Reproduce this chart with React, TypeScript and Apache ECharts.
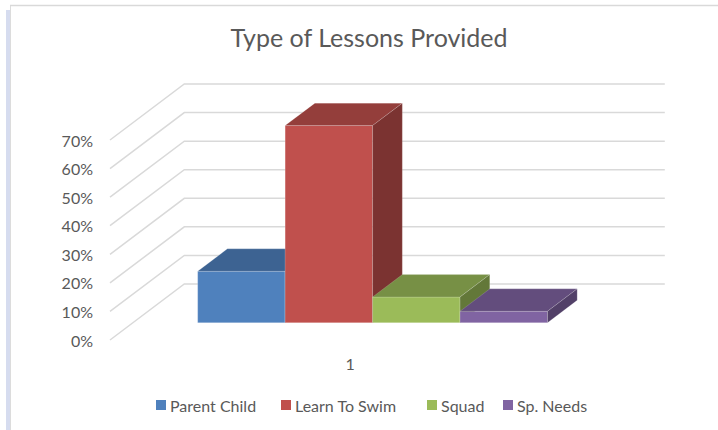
import React, { useEffect, useRef } from 'react';
import * as echarts from 'echarts';

// ---- data ----
const categories = ['1'];
const seriesNames = ['Parent Child', 'Learn To Swim', 'Squad', 'Sp. Needs'];
const seriesValues = [18, 69, 9, 4];
const yTicks = [0, 10, 20, 30, 40, 50, 60, 70];
const frontColors = ['#4f81bd', '#c0504d', '#9bbb59', '#8064a2'];
const legendLefts = [156, 281, 427, 503];

// ---- style / geometry constants ----
const DEPTH_X = 74.3;
const DEPTH_Y = -56;
const BAR_FRONT = 0.309;
const BAR_BACK = 0.709;
const GAP = 0.1347;
const BAR_W = 0.182;
const FONT = 'Lato, "Open Sans", sans-serif';
const TEXT = '#595959';

function shade(hex: string, f: number): string {
  const n = parseInt(hex.slice(1), 16);
  const r = Math.round(((n >> 16) & 255) * f);
  const g = Math.round(((n >> 8) & 255) * f);
  const b = Math.round((n & 255) * f);
  return `rgb(${r},${g},${b})`;
}

export default function App() {
  const ref = useRef<HTMLDivElement>(null);
  useEffect(() => {
    if (!ref.current) return;
    const chart = echarts.init(ref.current, null, { renderer: 'svg' });

    const gridSeries: any = {
      type: 'custom',
      name: '__grid',
      silent: true,
      clip: false,
      z: 1,
      data: yTicks.map((v) => [0, v]),
      renderItem: (params: any, api: any) => {
        const y = api.coord([0, api.value(1)])[1];
        const cs = params.coordSys;
        return {
          type: 'polyline',
          shape: {
            points: [
              [cs.x, y],
              [cs.x + DEPTH_X, y + DEPTH_Y],
              [cs.x + cs.width + DEPTH_X, y + DEPTH_Y],
            ],
          },
          style: { stroke: '#d9d9d9', lineWidth: 1.5, fill: null },
        };
      },
    };

    const barSeries = seriesNames.map((name, i) => ({
      type: 'custom',
      name,
      clip: false,
      z: 2 + i,
      itemStyle: { color: frontColors[i] },
      data: [[0, seriesValues[i]]],
      renderItem: (params: any, api: any) => {
        const cat = api.value(0);
        const v = api.value(1);
        const base = api.coord([cat, 0]);
        const top = api.coord([cat, v]);
        const band = api.size([1, 0])[0];
        const x0 = base[0] - band / 2 + band * (GAP + i * BAR_W);
        const x1 = x0 + band * BAR_W;
        const fdx = DEPTH_X * BAR_FRONT;
        const fdy = DEPTH_Y * BAR_FRONT;
        const bdx = DEPTH_X * BAR_BACK;
        const bdy = DEPTH_Y * BAR_BACK;
        const yb = base[1];
        const yt = top[1];
        const c = frontColors[i];
        const edge = 'rgba(255,255,255,0.25)';
        return {
          type: 'group',
          children: [
            {
              type: 'polygon',
              shape: {
                points: [
                  [x0 + fdx, yb + fdy],
                  [x1 + fdx, yb + fdy],
                  [x1 + fdx, yt + fdy],
                  [x0 + fdx, yt + fdy],
                ],
              },
              style: { fill: c, stroke: edge, lineWidth: 0.8 },
            },
            {
              type: 'polygon',
              shape: {
                points: [
                  [x0 + fdx, yt + fdy],
                  [x1 + fdx, yt + fdy],
                  [x1 + bdx, yt + bdy],
                  [x0 + bdx, yt + bdy],
                ],
              },
              style: { fill: shade(c, 0.77), stroke: edge, lineWidth: 0.6 },
            },
            {
              type: 'polygon',
              shape: {
                points: [
                  [x1 + fdx, yb + fdy],
                  [x1 + bdx, yb + bdy],
                  [x1 + bdx, yt + bdy],
                  [x1 + fdx, yt + fdy],
                ],
              },
              style: { fill: shade(c, 0.64), stroke: edge, lineWidth: 0.6 },
            },
          ],
        };
      },
    }));

    const option: any = {
      animation: false,
      backgroundColor: '#ffffff',
      title: {
        text: 'Type of Lessons Provided',
        left: 369,
        top: 24,
        padding: 0,
        textAlign: 'center',
        textStyle: { fontFamily: FONT, fontSize: 25, fontWeight: 'normal', color: TEXT },
      },
      legend: seriesNames.map((name, i) => ({
        data: [name],
        left: legendLefts[i],
        top: 397,
        padding: 0,
        icon: 'rect',
        itemWidth: 10,
        itemHeight: 10,
        selectedMode: false,
        textStyle: { fontFamily: FONT, fontSize: 16, color: TEXT, padding: [0, 0, 0, -1] },
      })),
      grid: { left: 110, right: 127.5, top: 140, bottom: 90, containLabel: false },
      xAxis: {
        type: 'category',
        data: categories,
        axisLine: { show: false },
        axisTick: { show: false },
        splitLine: { show: false },
        axisLabel: { margin: 15, fontFamily: FONT, fontSize: 16, color: TEXT },
      },
      yAxis: {
        type: 'value',
        min: 0,
        max: 70,
        interval: 10,
        axisLine: { show: false },
        axisTick: { show: false },
        splitLine: { show: false },
        axisLabel: {
          margin: 17,
          formatter: '{value}%',
          fontFamily: FONT,
          fontSize: 16,
          color: TEXT,
        },
      },
      graphic: [
        { type: 'rect', shape: { x: 6, y: 10, width: 4, height: 420 }, style: { fill: '#d6dcef' }, silent: true },
        { type: 'line', shape: { x1: 10.5, y1: 5.5, x2: 10.5, y2: 430 }, style: { stroke: '#dcdcdc', lineWidth: 1 }, silent: true },
        { type: 'line', shape: { x1: 10, y1: 5.5, x2: 718, y2: 5.5 }, style: { stroke: '#d9d9d9', lineWidth: 1.5 }, silent: true },
      ],
      series: [gridSeries, ...barSeries],
    };
    chart.setOption(option);
    return () => chart.dispose();
  }, []);

  return (
    <div
      ref={ref}
      style={{ position: 'fixed', left: 0, top: 0, width: 718, height: 430, background: '#fff' }}
    />
  );
}
